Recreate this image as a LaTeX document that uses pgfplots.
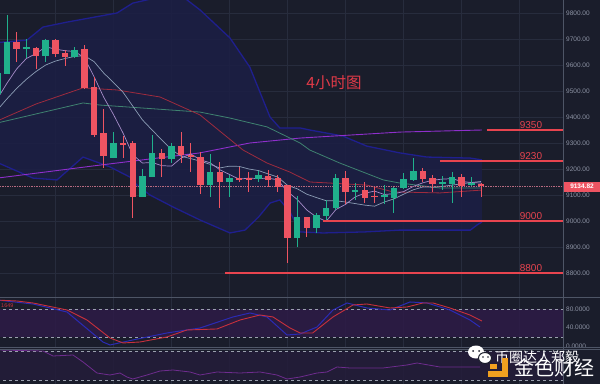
\documentclass[border=0pt]{standalone}
\usepackage{pgfplots}
\usepackage{pgfplotstable}
\pgfplotsset{compat=1.18}
\usepackage{fontspec}
\setmainfont{Liberation Sans}
\newfontfamily\cjk{Noto Sans CJK SC}

\definecolor{bg}{HTML}{1A1D2B}
\definecolor{gridc}{HTML}{272C3D}
\definecolor{upc}{HTML}{20B08C}
\definecolor{downc}{HTML}{EE5462}
\definecolor{maA}{HTML}{A58CC8}
\definecolor{maB}{HTML}{8C9DB5}
\definecolor{maC}{HTML}{9E2B3E}
\definecolor{maD}{HTML}{3F8270}
\definecolor{maE}{HTML}{8E2FCC}
\definecolor{bandline}{HTML}{1F1F8E}
\definecolor{bandfill}{HTML}{1C1F44}
\definecolor{levelc}{HTML}{E8444F}
\definecolor{tickc}{HTML}{8C92A3}
\definecolor{sepc}{HTML}{4E5566}
\definecolor{stochfill}{HTML}{2D1B47}
\definecolor{stochfillb}{HTML}{241C3A}
\definecolor{kline}{HTML}{2B2BB5}
\definecolor{dline}{HTML}{C7303C}
\definecolor{pline}{HTML}{6E2C8E}
\definecolor{dashc}{HTML}{9AA0AE}
\definecolor{pricec}{HTML}{B86A80}
\definecolor{titlec}{HTML}{E03A48}
\definecolor{logoc}{HTML}{F0A020}

% candles: index, open, high, low, close
\pgfplotstableread{
i o h l c
0 9492 9580 9480 9569
1 9569 9792 9565 9688
3 9663 9700 9627 9667
5 9638 9700 9612 9696
8 9631 9669 9627 9654
12 9246 9342 9242 9300
15 9096 9200 9092 9173
16 9173 9331 9169 9258
18 9242 9300 9223 9285
22 9142 9258 9092 9188
24 9150 9177 9092 9165
27 9162 9192 9150 9177
31 8935 9096 8900 9012
33 8973 9031 8954 9023
34 9023 9081 9004 9050
35 9050 9181 9042 9162
37 9112 9146 9081 9117
40 9094 9138 9065 9097
41 9092 9131 9031 9127
42 9127 9185 9123 9158
43 9158 9242 9154 9192
46 9145 9173 9119 9148
47 9146 9188 9069 9169
49 9140 9169 9135 9143
}\upcandles

\pgfplotstableread{
i o h l c
2 9688 9727 9612 9662
4 9665 9669 9585 9635
6 9696 9700 9631 9646
7 9646 9658 9596 9631
9 9658 9677 9508 9515
10 9515 9554 9323 9331
11 9335 9431 9204 9250
13 9300 9327 9242 9296
14 9300 9308 9012 9096
17 9258 9277 9169 9242
19 9285 9342 9223 9254
20 9254 9300 9188 9250
21 9246 9265 9104 9142
23 9188 9227 9050 9150
25 9165 9208 9150 9162
26 9165 9188 9112 9162
28 9173 9196 9131 9158
29 9162 9177 9112 9131
30 9135 9138 8838 8935
32 9012 9015 8938 8973
36 9162 9192 9065 9112
38 9119 9150 9069 9092
39 9096 9131 9069 9093
44 9192 9204 9150 9162
45 9165 9177 9112 9146
48 9169 9181 9092 9135
50 9142 9146 9092 9135
}\downcandles

% Bollinger band outline (upper left to right, then lower right to left)
\pgfplotstableread{
x y
0 9686
3.07 9696
4.72 9746
7.2 9765
12.37 9800
14.0 9838
16.82 9862
19.2 9862
20.95 9812
24.05 9704
26.1 9592
28.19 9400
29.2 9358
31.3 9358
32.3 9350
35.7 9327
38.2 9288
41.6 9262
44.4 9246
48.9 9242
50.1 9235
50.1 8996
49.6 8985
48.9 8965
41.6 8965
38.0 8958
33.67 8954
31.3 8958
30.26 9035
29.2 9081
28.19 9069
27.0 9015
25.6 8965
24.05 8954
20.95 9004
18.16 9054
15.78 9100
14.44 9138
13.7 9169
11.65 9208
8.86 9246
6.17 9158
3.69 9165
0 9225
}\bollband

\pgfplotstableread{
x y
0 9686
3.07 9696
4.72 9746
7.2 9765
12.37 9800
14.0 9838
16.82 9862
19.2 9862
20.95 9812
24.05 9704
26.1 9592
28.19 9400
29.2 9358
31.3 9358
32.3 9350
35.7 9327
38.2 9288
41.6 9262
44.4 9246
48.9 9242
50.1 9235
}\bollup

\pgfplotstableread{
x y
0 9225
3.69 9165
6.17 9158
8.86 9246
11.65 9208
13.7 9169
14.44 9138
15.78 9100
18.16 9054
20.95 9004
24.05 8954
25.6 8965
27.0 9015
28.19 9069
29.2 9081
30.26 9035
31.3 8958
33.67 8954
38.0 8958
41.6 8965
48.9 8965
49.6 8985
50.1 8996
}\bolllo

\pgfplotstableread{
x y
0 9470
1 9530
2 9585
3 9625
4 9644
5 9670
6 9661
7 9655
8 9652
9 9628
10 9555
11 9476
12 9410
13 9338
14 9255
15 9223
16 9225
17 9213
18 9211
19 9242
20 9258
21 9235
22 9224
23 9197
24 9179
25 9161
26 9165
27 9163
28 9165
29 9158
30 9113
31 9083
32 9042
33 9015
34 8999
35 9044
36 9064
37 9093
38 9107
39 9115
40 9102
41 9105
42 9113
43 9133
44 9147
45 9157
46 9161
47 9163
48 9152
49 9148
50 9146
}\maFive

\pgfplotstableread{
x y
0 9427
1 9470
2 9510
3 9545
4 9575
5 9600
6 9615
7 9625
8 9633
9 9636
10 9613
11 9569
12 9533
13 9495
14 9442
15 9389
16 9350
17 9312
18 9275
19 9249
20 9240
21 9230
22 9218
23 9204
24 9211
25 9210
26 9200
27 9194
28 9181
29 9169
30 9137
31 9124
32 9103
33 9090
34 9078
35 9078
36 9073
37 9067
38 9061
39 9057
40 9073
41 9085
42 9103
43 9120
44 9131
45 9130
46 9133
47 9138
48 9143
49 9148
50 9152
}\maTen

\pgfplotstableread{
x y
0 9385
4 9450
8.86 9512
12.37 9504
16.82 9477
20.95 9408
25.40 9273
27.88 9223
30.26 9188
32.32 9150
34.39 9146
38.22 9138
40.9 9112
45.76 9108
50.1 9119
}\maMid

\pgfplotstableread{
x y
0 9377
8.86 9454
10.6 9446
20.95 9419
24.05 9396
27.88 9362
31.3 9300
32.3 9273
35.4 9223
39.9 9158
41.6 9146
45.76 9127
50.1 9127
}\maSixty

\pgfplotstableread{
x y
0 9165
10.6 9215
20.95 9262
26.1 9300
31.3 9319
41.6 9342
50.1 9350
}\maLong

\pgfplotstableread{
x y
0 100
3.69 91.5
7.2 74.1
10.92 8.9
11.65 2.4
14.0 13.3
17.54 28.5
20.95 39.3
24.36 63.3
26.12 72
27.88 63.3
29.95 24.1
31.3 26.3
33.05 41.5
34.7 78.5
36.15 93.7
38.22 82.8
40.6 78.5
42.66 95.9
44.42 93.7
46.8 78.5
48.86 56.7
49.9 41.5
}\kdata

\pgfplotstableread{
x y
0 100
2.03 98
3.69 93.7
7.2 78.5
9.27 56.7
11.65 17.6
13.0 6.8
14.75 8.9
17.54 19.8
19.6 35
22.71 37.2
25.09 56.7
27.16 67.6
28.5 63.3
30.26 39.3
31.3 28.5
32.6 28.5
34.7 63.3
36.77 89.3
38.2 91.5
40.6 82.8
42.35 85
44.0 93.7
45.04 93.7
46.8 82.8
48.86 67.6
50.1 54.5
}\ddata

\pgfplotstableread{
x y
0 34
4.72 33
5.75 28
7.82 29
8.86 22
10.3 11
11.65 9
12.68 11
13.4 7
14.0 5
15.47 9
16.82 13
18.16 14
19.92 12
20.95 9
22.71 12
25.09 11
27.16 12
28.91 9
29.95 5
31.3 7
33.05 11
34.08 12
35.12 17
36.46 16
39.87 16
42.35 19
43.39 21
45.76 17
48.55 17
49.9 17
}\pdata

\pgfplotsset{
  panel/.style={
    scale only axis, width=563pt,
    xmin=0.2763, xmax=58.48,
    axis line style={draw=none},
    tick style={draw=none},
    major tick length=0pt,
    xtick={6,12,...,54},
    xticklabels={},
    xmajorgrids=true,
    major grid style={draw=gridc, line width=0.5pt},
    yticklabel pos=right,
    yticklabel style={font=\fontsize{6.5}{7}\selectfont, text=tickc, anchor=west, inner sep=0pt, xshift=3pt},
    /pgf/number format/assume math mode=true,
  },
}

\begin{document}
\begin{tikzpicture}[x=1pt,y=1pt]
\fill[bg] (0pt,0pt) rectangle (600pt,384pt);

% ---------- main price panel ----------
\begin{axis}[panel, at={(0pt,87pt)}, anchor=south west, height=297pt,
  ymin=8707.7, ymax=9850,
  ytick={8800,8900,9000,9100,9200,9300,9400,9500,9600,9700,9800},
  ymajorgrids=true,
  yticklabel style={/pgf/number format/fixed, /pgf/number format/fixed zerofill, /pgf/number format/precision=2, /pgf/number format/1000 sep={}},
]
\addplot[fill=bandfill, fill opacity=0.9, draw=none] table {\bollband} -- cycle;
\addplot[bandline, line width=1.3pt] table {\bollup};
\addplot[bandline, line width=1.3pt] table {\bolllo};

\addplot[maE, line width=0.9pt] table {\maLong};
\addplot[maD, line width=0.8pt] table {\maSixty};
\addplot[maC, line width=0.8pt] table {\maMid};
\addplot[maB, line width=0.7pt] table {\maTen};
\addplot[maA, line width=0.7pt] table {\maFive};

% last price
\addplot[pricec, densely dotted, line width=0.7pt] coordinates {(0.2763,9134.82) (58.48,9134.82)};

% candle wicks
\addplot[mark=none, forget plot, draw=none,
  error bars/.cd, y dir=both, y explicit, error mark=none,
  error bar style={draw=upc, line width=0.9pt, solid}]
  table[x=i, y expr={(\thisrow{h}+\thisrow{l})/2}, y error expr={(\thisrow{h}-\thisrow{l})/2}] {\upcandles};
\addplot[mark=none, forget plot, draw=none,
  error bars/.cd, y dir=both, y explicit, error mark=none,
  error bar style={draw=downc, line width=0.9pt, solid}]
  table[x=i, y expr={(\thisrow{h}+\thisrow{l})/2}, y error expr={(\thisrow{h}-\thisrow{l})/2}] {\downcandles};
% candle bodies
\addplot[mark=none, forget plot, draw=none,
  error bars/.cd, y dir=both, y explicit, error mark=none,
  error bar style={draw=upc, line width=6.5pt, solid}]
  table[x=i, y expr={(\thisrow{o}+\thisrow{c})/2}, y error expr={abs(\thisrow{c}-\thisrow{o})/2+1.8}] {\upcandles};
\addplot[mark=none, forget plot, draw=none,
  error bars/.cd, y dir=both, y explicit, error mark=none,
  error bar style={draw=downc, line width=6.5pt, solid}]
  table[x=i, y expr={(\thisrow{o}+\thisrow{c})/2}, y error expr={abs(\thisrow{c}-\thisrow{o})/2+1.8}] {\downcandles};

% support / resistance levels
\addplot[levelc, line width=1.6pt] coordinates {(50.62,9350) (58.48,9350)};
\addplot[levelc, line width=1.6pt] coordinates {(45.76,9230) (58.48,9230)};
\addplot[levelc, line width=1.6pt] coordinates {(33.67,9000) (58.48,9000)};
\addplot[levelc, line width=1.6pt] coordinates {(23.54,8800) (58.48,8800)};

\node[text=levelc, font=\fontsize{10}{10}\selectfont, anchor=south, inner sep=1.5pt] at (axis cs:55.17,9350) {9350};
\node[text=levelc, font=\fontsize{10}{10}\selectfont, anchor=south, inner sep=1.5pt] at (axis cs:55.17,9230) {9230};
\node[text=levelc, font=\fontsize{10}{10}\selectfont, anchor=south, inner sep=1.5pt] at (axis cs:55.17,9000) {9000};
\node[text=levelc, font=\fontsize{10}{10}\selectfont, anchor=south, inner sep=1.5pt] at (axis cs:55.17,8800) {8800};
\end{axis}

% ---------- oscillator panel ----------
\begin{axis}[panel, at={(0pt,37pt)}, anchor=south west, height=50pt,
  ymin=-2, ymax=106.7,
  ytick={0,40,80},
  yticklabel style={/pgf/number format/fixed, /pgf/number format/fixed zerofill, /pgf/number format/precision=4},
]
\addplot[fill=stochfill, fill opacity=0.85, draw=none] coordinates {(0,20) (60,20) (60,80) (0,80)} -- cycle;
\addplot[dashc, dashed, line width=0.6pt] coordinates {(0,80) (60,80)};
\addplot[dashc, dashed, line width=0.6pt] coordinates {(0,20) (60,20)};
\addplot[kline, line width=1pt] table {\kdata};
\addplot[dline, line width=0.9pt] table {\ddata};
\end{axis}

% ---------- bottom panel ----------
\begin{axis}[panel, at={(0pt,0pt)}, anchor=south west, height=35pt,
  ymin=0, ymax=35, ytick=\empty,
]
\addplot[fill=stochfillb, fill opacity=0.85, draw=none] coordinates {(0,4) (60,4) (60,33) (0,33)} -- cycle;
\addplot[dashc, dashed, line width=0.6pt] coordinates {(0,33) (60,33)};
\addplot[dashc, dashed, line width=0.6pt] coordinates {(0,4) (60,4)};
\addplot[pline, line width=0.8pt] table {\pdata};
\end{axis}

% separators and right border
\draw[sepc, line width=0.7pt] (0pt,87pt) -- (600pt,87pt);
\draw[sepc, line width=0.7pt] (0pt,37pt) -- (600pt,37pt);
\draw[sepc, line width=0.7pt] (0pt,35pt) -- (600pt,35pt);
\draw[sepc, line width=0.7pt] (563pt,0pt) -- (563pt,384pt);

% oscillator value tag
\node[text=dline, font=\fontsize{5.5}{6}\selectfont, anchor=west, inner sep=0pt] at (1pt,78pt) {1649};

% last price tag
\fill[downc] (564pt,192.5pt) rectangle (600pt,202.5pt);
\node[text=white, font=\bfseries\fontsize{6.5}{7}\selectfont, inner sep=0pt] at (582pt,197.5pt) {9134.82};

% title
\node[text=titlec, font=\cjk\fontsize{15.5}{16}\selectfont] at (334pt,301pt) {4小时图};

% watermark
\fill[white] (476pt,32pt) ellipse (8pt and 6.5pt);
\filldraw[fill=white, draw=bg, line width=1pt] (485pt,26pt) ellipse (6.5pt and 5.5pt);
\fill[bg] (473pt,33pt) circle (1pt); \fill[bg] (479pt,33pt) circle (1pt);
\fill[bg] (483pt,27pt) circle (0.8pt); \fill[bg] (488pt,27pt) circle (0.8pt);
\node[text=white, font=\cjk\fontsize{14}{14}\selectfont] at (537pt,27pt) {币圈达人郑毅};
\fill[logoc] (502pt,7pt) rectangle (508pt,26pt);
\fill[logoc] (488pt,7pt) rectangle (508pt,13pt);
\fill[logoc] (490pt,15pt) rectangle (497pt,20pt);
\node[text=white, font=\cjk\fontsize{20}{20}\selectfont] at (554pt,16pt) {金色财经};

\pgfresetboundingbox
\useasboundingbox (0pt,0pt) rectangle (600pt,384pt);
\end{tikzpicture}
\end{document}
